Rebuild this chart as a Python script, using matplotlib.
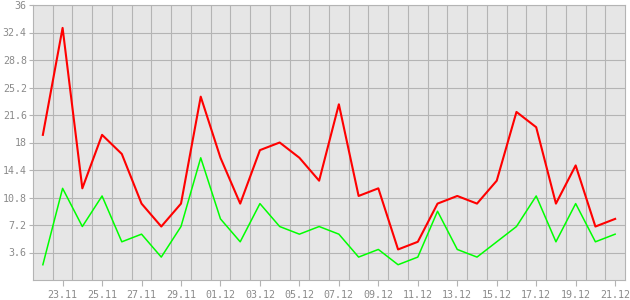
import numpy as np
import matplotlib
matplotlib.use("Agg")
import matplotlib.pyplot as plt

# daily values, 22.11 .. 21.12
days = ["22.11", "23.11", "24.11", "25.11", "26.11", "27.11", "28.11", "29.11",
        "30.11", "01.12", "02.12", "03.12", "04.12", "05.12", "06.12", "07.12",
        "08.12", "09.12", "10.12", "11.12", "12.12", "13.12", "14.12", "15.12",
        "16.12", "17.12", "18.12", "19.12", "20.12", "21.12"]
red_vals = [19, 33, 12, 19, 16.5, 10, 7, 10, 24, 16, 10, 17, 18, 16, 13, 23,
            11, 12, 4, 5, 10, 11, 10, 13, 22, 20, 10, 15, 7, 8]
green_vals = [2, 12, 7, 11, 5, 6, 3, 7, 16, 8, 5, 10, 7, 6, 7, 6,
              3, 4, 2, 3, 9, 4, 3, 5, 7, 11, 5, 10, 5, 6]
y_ticks = [3.6, 7.2, 10.8, 14.4, 18, 21.6, 25.2, 28.8, 32.4, 36]
y_labels = ["3.6", "7.2", "10.8", "14.4", "18", "21.6", "25.2", "28.8", "32.4", "36"]

grid_col = "#b4b4b4"
text_col = "#8a8a8a"

fig = plt.figure(figsize=(6.3, 3.0), dpi=100)
ax = fig.add_axes([33 / 630, 20 / 300, 592 / 630, 275 / 300])
ax.set_facecolor("#e6e6e6")

x = np.arange(len(days))
ax.plot(x, red_vals, color="#ff0000", lw=1.5, zorder=3)
ax.plot(x, green_vals, color="#00ff00", lw=1.1, zorder=3)

ax.set_xlim(-0.5, len(days) - 0.5)
ax.set_ylim(0, 36)

# grid lines between days, ticks on every second day
for gx in np.arange(0.5, len(days) - 0.5, 1):
    ax.axvline(gx, color=grid_col, lw=0.8, zorder=1)
for gy in y_ticks:
    ax.axhline(gy, color=grid_col, lw=0.8, zorder=1)

ax.set_xticks(x[1::2])
ax.set_xticklabels(days[1::2])
ax.set_yticks(y_ticks)
ax.set_yticklabels(y_labels)

ax.tick_params(axis="x", length=4, width=0.8, color=grid_col, pad=3,
               labelsize=7.2, labelcolor=text_col)
ax.tick_params(axis="y", length=3, width=0.8, color=grid_col, pad=1.5,
               labelsize=7.2, labelcolor=text_col)
for lab in ax.get_xticklabels() + ax.get_yticklabels():
    lab.set_family("DejaVu Sans Mono")

for s in ax.spines.values():
    s.set_color(grid_col)
    s.set_linewidth(0.8)

fig.savefig("out.png", dpi=100, facecolor="white")
